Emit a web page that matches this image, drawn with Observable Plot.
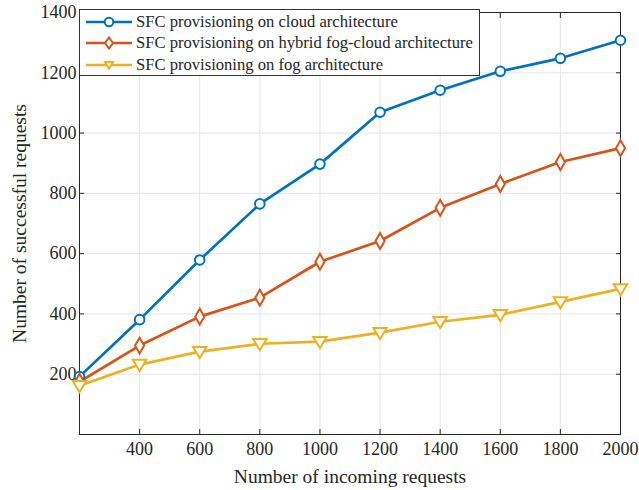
<!DOCTYPE html>
<html><head><meta charset="utf-8">
<script src="https://cdn.jsdelivr.net/npm/d3@7"></script>
<script src="https://cdn.jsdelivr.net/npm/@observablehq/plot@0.6"></script>
<style>
body{margin:0;background:#fff;font-family:"Liberation Serif","Times New Roman",serif;}
#wrap{position:relative;width:639px;height:490px;}
#legend{position:absolute;left:79px;top:9px;width:401px;height:67px;border:1px solid #333;background:#fff;font-size:16.6px;color:#262626;box-sizing:border-box;padding-top:1px;}
.row{display:flex;align-items:center;height:21.5px;}
.row svg{margin-left:4px;margin-right:2px;}
</style>
</head><body>
<div id="wrap"><div id="chart"></div><div id="legend"></div></div>
<script>
const requests = [200,400,600,800,1000,1200,1400,1600,1800,2000];
const cloud  = [192,381,579,765,897,1069,1142,1205,1248,1308];
const hybrid = [175,295,391,454,573,642,752,831,904,950];
const fog    = [162,232,275,301,308,338,374,397,440,483];
const seriesNames = ["SFC provisioning on cloud architecture","SFC provisioning on hybrid fog-cloud architecture","SFC provisioning on fog architecture"];
const colors = ["#0072BD","#D95319","#EDB120"];
const xTicks = [400,600,800,1000,1200,1400,1600,1800,2000];
const yTicks = [200,400,600,800,1000,1200,1400];

const triangleDown = {draw(ctx, size){const s=Math.sqrt(size/1.6);ctx.moveTo(-s,-s*0.7);ctx.lineTo(s,-s*0.7);ctx.lineTo(0,s*0.95);ctx.closePath();}};
const symbols = ["circle","diamond",triangleDown];

const data = [];
[cloud,hybrid,fog].forEach((arr,i)=>arr.forEach((v,j)=>data.push({x:requests[j],y:v,s:seriesNames[i]})));

const lineMarks = [], dotMarks = [];
seriesNames.forEach((name,i)=>{
  const d = data.filter(e=>e.s===name);
  lineMarks.push(Plot.line(d,{x:"x",y:"y",stroke:colors[i],strokeWidth:2.7}));
  dotMarks.push(Plot.dot(d,{x:"x",y:"y",stroke:colors[i],fill:"white",strokeWidth:2,r:4.8,symbol:()=>symbols[i]}));
});

const fmt = d3.format("d");
const chart = Plot.plot({
  width:639,height:490,
  marginLeft:79,marginRight:19,marginTop:12,marginBottom:56,
  style:{fontFamily:"Liberation Serif, Times New Roman, serif",fontSize:"18px",color:"#262626",background:"white"},
  x:{domain:[200,2000]},
  y:{domain:[0,1400]},
  marks:[
    Plot.gridX(xTicks,{stroke:"#e6e6e6",strokeOpacity:1}),
    Plot.gridY(yTicks,{stroke:"#e6e6e6",strokeOpacity:1}),
    Plot.axisX(xTicks,{tickSize:-5,tickPadding:13,stroke:"#262626",tickFormat:fmt,fontSize:18,label:"Number of incoming requests",labelAnchor:"center",labelArrow:"none",labelOffset:48}),
    Plot.axisX(xTicks,{anchor:"top",tickSize:-5,tickFormat:()=>"",label:null,stroke:"#262626"}),
    Plot.axisY(yTicks,{tickSize:-5,tickPadding:8,stroke:"#262626",tickFormat:fmt,fontSize:18,label:"Number of successful requests",labelAnchor:"center",labelArrow:"none",labelOffset:67}),
    Plot.axisY(yTicks,{anchor:"right",tickSize:-5,tickFormat:()=>"",label:null,stroke:"#262626"}),
    Plot.frame({stroke:"#262626",strokeWidth:1}),
    ...lineMarks,
    ...dotMarks
  ]
});
chart.querySelectorAll('g[aria-label="x-axis label"], g[aria-label="y-axis label"]').forEach(g=>g.setAttribute("font-size","19.5"));
document.getElementById("chart").appendChild(chart);

const leg = document.getElementById("legend");
const symPaths = [
  '<circle cx="25" cy="8" r="4.3" fill="white" stroke="COL" stroke-width="2"/>',
  '<path d="M25,2.5 L29,8 L25,13.5 L21,8 Z" fill="white" stroke="COL" stroke-width="2"/>',
  '<path d="M21,5 L29,5 L25,11.5 Z" fill="white" stroke="COL" stroke-width="2"/>'
];
seriesNames.forEach((name,i)=>{
  const row = document.createElement("div");
  row.className="row";
  row.innerHTML = `<svg width="50" height="16"><line x1="2" x2="48" y1="8" y2="8" stroke="${colors[i]}" stroke-width="2.6"/>${symPaths[i].replace("COL",colors[i])}</svg><span>${name}</span>`;
  leg.appendChild(row);
});
</script>
</body></html>
